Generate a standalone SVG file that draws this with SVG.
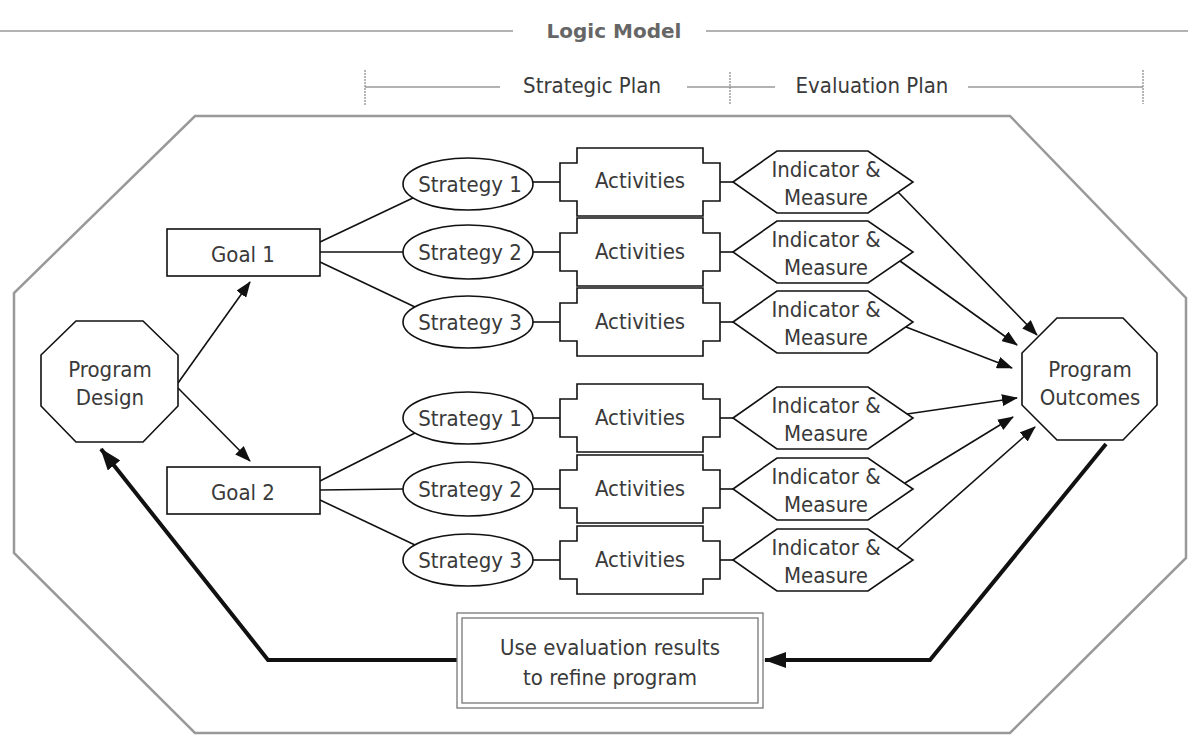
<svg xmlns="http://www.w3.org/2000/svg" width="1188" height="736" viewBox="0 0 1188 736">
<defs>
<style>
.t{font-family:"DejaVu Sans Condensed","DejaVu Sans",sans-serif;font-stretch:condensed;font-size:22px;fill:#3a3a3a;text-anchor:middle}
.hd{font-family:"DejaVu Sans",sans-serif;font-weight:bold;font-size:20px;fill:#666;text-anchor:middle}
.n{fill:#fff;stroke:#111;stroke-width:1.6}
.c{fill:none;stroke:#111;stroke-width:1.6}
.fb{fill:none;stroke:#111;stroke-width:4}
.g{fill:none;stroke:#666;stroke-width:1.2}
.tick{fill:none;stroke:#888;stroke-width:1.2;stroke-dasharray:2 1}
</style>
<marker id="a" markerUnits="userSpaceOnUse" markerWidth="16" markerHeight="12" refX="15" refY="6" orient="auto"><path d="M0,0 L16,6 L0,12 z" fill="#111"/></marker>
<marker id="A" markerUnits="userSpaceOnUse" markerWidth="22" markerHeight="16" refX="21" refY="8" orient="auto"><path d="M0,0 L22,8 L0,16 z" fill="#111"/></marker>
</defs>
<rect width="1188" height="736" fill="#fff"/>

<g id="header">
<line x1="0" y1="31" x2="513" y2="31" class="g"/>
<text x="614" y="38" class="hd">Logic Model</text>
<line x1="706" y1="31" x2="1188" y2="31" class="g"/>
<line x1="365" y1="87" x2="500" y2="87" class="g"/>
<line x1="365" y1="70" x2="365" y2="106" class="tick"/>
<text x="592" y="93" class="t">Strategic Plan</text>
<line x1="687" y1="87" x2="775" y2="87" class="g"/>
<line x1="730" y1="72" x2="730" y2="104" class="tick"/>
<text x="872" y="93" class="t">Evaluation Plan</text>
<line x1="968" y1="87" x2="1143" y2="87" class="g"/>
<line x1="1143" y1="70" x2="1143" y2="104" class="tick"/>
</g>

<g id="frame">
<polygon points="195,116 1010,116 1186,298 1186,558 1010,733 195,733 14,553 14,293" fill="none" stroke="#999" stroke-width="2.5"/>
</g>

<g id="connectors">
<line x1="178" y1="383" x2="250" y2="282" class="c" marker-end="url(#a)"/>
<line x1="178" y1="388" x2="250" y2="461" class="c" marker-end="url(#a)"/>
<line x1="320" y1="242" x2="415" y2="197" class="c"/>
<line x1="320" y1="252" x2="403" y2="252" class="c"/>
<line x1="320" y1="262" x2="415" y2="307" class="c"/>
<line x1="320" y1="481" x2="415" y2="433" class="c"/>
<line x1="320" y1="490" x2="403" y2="489" class="c"/>
<line x1="320" y1="500" x2="415" y2="545" class="c"/>
<line x1="533" y1="182" x2="560" y2="182" class="c"/>
<line x1="533" y1="252" x2="560" y2="252" class="c"/>
<line x1="533" y1="322" x2="560" y2="322" class="c"/>
<line x1="533" y1="418" x2="560" y2="418" class="c"/>
<line x1="533" y1="489" x2="560" y2="489" class="c"/>
<line x1="533" y1="560" x2="560" y2="560" class="c"/>
<line x1="720" y1="182" x2="733" y2="182" class="c"/>
<line x1="720" y1="252" x2="733" y2="252" class="c"/>
<line x1="720" y1="322" x2="733" y2="322" class="c"/>
<line x1="720" y1="418" x2="733" y2="418" class="c"/>
<line x1="720" y1="489" x2="733" y2="489" class="c"/>
<line x1="720" y1="560" x2="733" y2="560" class="c"/>
<line x1="898" y1="192" x2="1037" y2="335" class="c" marker-end="url(#a)"/>
<line x1="900" y1="261" x2="1017" y2="345" class="c" marker-end="url(#a)"/>
<line x1="906" y1="327" x2="1012" y2="368" class="c" marker-end="url(#a)"/>
<line x1="907" y1="414" x2="1017" y2="398" class="c" marker-end="url(#a)"/>
<line x1="905" y1="483" x2="1013" y2="417" class="c" marker-end="url(#a)"/>
<line x1="897" y1="549" x2="1035" y2="427" class="c" marker-end="url(#a)"/>
<path d="M1106,444 L930,660 L765,660" class="fb" marker-end="url(#A)"/>
<path d="M457,660 L268,660 L101,449" class="fb" marker-end="url(#A)"/>
</g>

<g id="program-design">
<polygon points="76,321 143,321 178,355 178,406 143,442 76,442 41,406 41,355" class="n"/>
<text x="110" y="377" class="t">Program</text>
<text x="110" y="405" class="t">Design</text>
</g>

<g id="goal-1"><rect x="167" y="229" width="153" height="47" class="n"/><text x="243" y="262" class="t">Goal 1</text></g>
<g id="goal-2"><rect x="167" y="467" width="153" height="47" class="n"/><text x="243" y="500" class="t">Goal 2</text></g>

<g id="strategy-1a"><ellipse cx="468" cy="184" rx="65" ry="26" class="n"/><text x="470" y="192" class="t">Strategy 1</text></g>
<g id="strategy-2a"><ellipse cx="468" cy="252" rx="65" ry="27" class="n"/><text x="470" y="260" class="t">Strategy 2</text></g>
<g id="strategy-3a"><ellipse cx="468" cy="322" rx="65" ry="26" class="n"/><text x="470" y="330" class="t">Strategy 3</text></g>
<g id="strategy-1b"><ellipse cx="468" cy="418" rx="65" ry="26" class="n"/><text x="470" y="426" class="t">Strategy 1</text></g>
<g id="strategy-2b"><ellipse cx="468" cy="489" rx="65" ry="27" class="n"/><text x="470" y="497" class="t">Strategy 2</text></g>
<g id="strategy-3b"><ellipse cx="468" cy="560" rx="65" ry="26" class="n"/><text x="470" y="568" class="t">Strategy 3</text></g>

<g id="activities-1a"><polygon points="577,148 703,148 703,163 720,163 720,201 703,201 703,216 577,216 577,201 560,201 560,163 577,163" class="n"/><text x="640" y="188" class="t">Activities</text></g>
<g id="activities-2a"><polygon points="577,218 703,218 703,233 720,233 720,271 703,271 703,286 577,286 577,271 560,271 560,233 577,233" class="n"/><text x="640" y="259" class="t">Activities</text></g>
<g id="activities-3a"><polygon points="577,288 703,288 703,303 720,303 720,341 703,341 703,356 577,356 577,341 560,341 560,303 577,303" class="n"/><text x="640" y="329" class="t">Activities</text></g>
<g id="activities-1b"><polygon points="577,384 703,384 703,399 720,399 720,437 703,437 703,452 577,452 577,437 560,437 560,399 577,399" class="n"/><text x="640" y="425" class="t">Activities</text></g>
<g id="activities-2b"><polygon points="577,455 703,455 703,470 720,470 720,508 703,508 703,523 577,523 577,508 560,508 560,470 577,470" class="n"/><text x="640" y="496" class="t">Activities</text></g>
<g id="activities-3b"><polygon points="577,526 703,526 703,541 720,541 720,579 703,579 703,594 577,594 577,579 560,579 560,541 577,541" class="n"/><text x="640" y="567" class="t">Activities</text></g>

<g id="indicator-1a"><polygon points="733,182 777,151 868,151 913,182 868,213 777,213" class="n"/><text x="826" y="177" class="t">Indicator &amp;</text><text x="826" y="205" class="t">Measure</text></g>
<g id="indicator-2a"><polygon points="733,252 777,221 868,221 913,252 868,283 777,283" class="n"/><text x="826" y="247" class="t">Indicator &amp;</text><text x="826" y="275" class="t">Measure</text></g>
<g id="indicator-3a"><polygon points="733,322 777,291 868,291 913,322 868,353 777,353" class="n"/><text x="826" y="317" class="t">Indicator &amp;</text><text x="826" y="345" class="t">Measure</text></g>
<g id="indicator-1b"><polygon points="733,418 777,387 868,387 913,418 868,449 777,449" class="n"/><text x="826" y="413" class="t">Indicator &amp;</text><text x="826" y="441" class="t">Measure</text></g>
<g id="indicator-2b"><polygon points="733,489 777,458 868,458 913,489 868,520 777,520" class="n"/><text x="826" y="484" class="t">Indicator &amp;</text><text x="826" y="512" class="t">Measure</text></g>
<g id="indicator-3b"><polygon points="733,560 777,529 868,529 913,560 868,591 777,591" class="n"/><text x="826" y="555" class="t">Indicator &amp;</text><text x="826" y="583" class="t">Measure</text></g>

<g id="program-outcomes">
<polygon points="1057,318 1123,318 1157,353 1157,405 1123,440 1057,440 1022,405 1022,353" class="n"/>
<text x="1090" y="377" class="t">Program</text>
<text x="1090" y="405" class="t">Outcomes</text>
</g>

<g id="refine-box">
<rect x="457" y="613" width="306" height="95" fill="#fff" stroke="#777" stroke-width="1.3"/>
<rect x="462" y="618" width="296" height="85" fill="none" stroke="#777" stroke-width="1.3"/>
<text x="610" y="655" class="t">Use evaluation results</text>
<text x="610" y="685" class="t">to refine program</text>
</g>
</svg>
